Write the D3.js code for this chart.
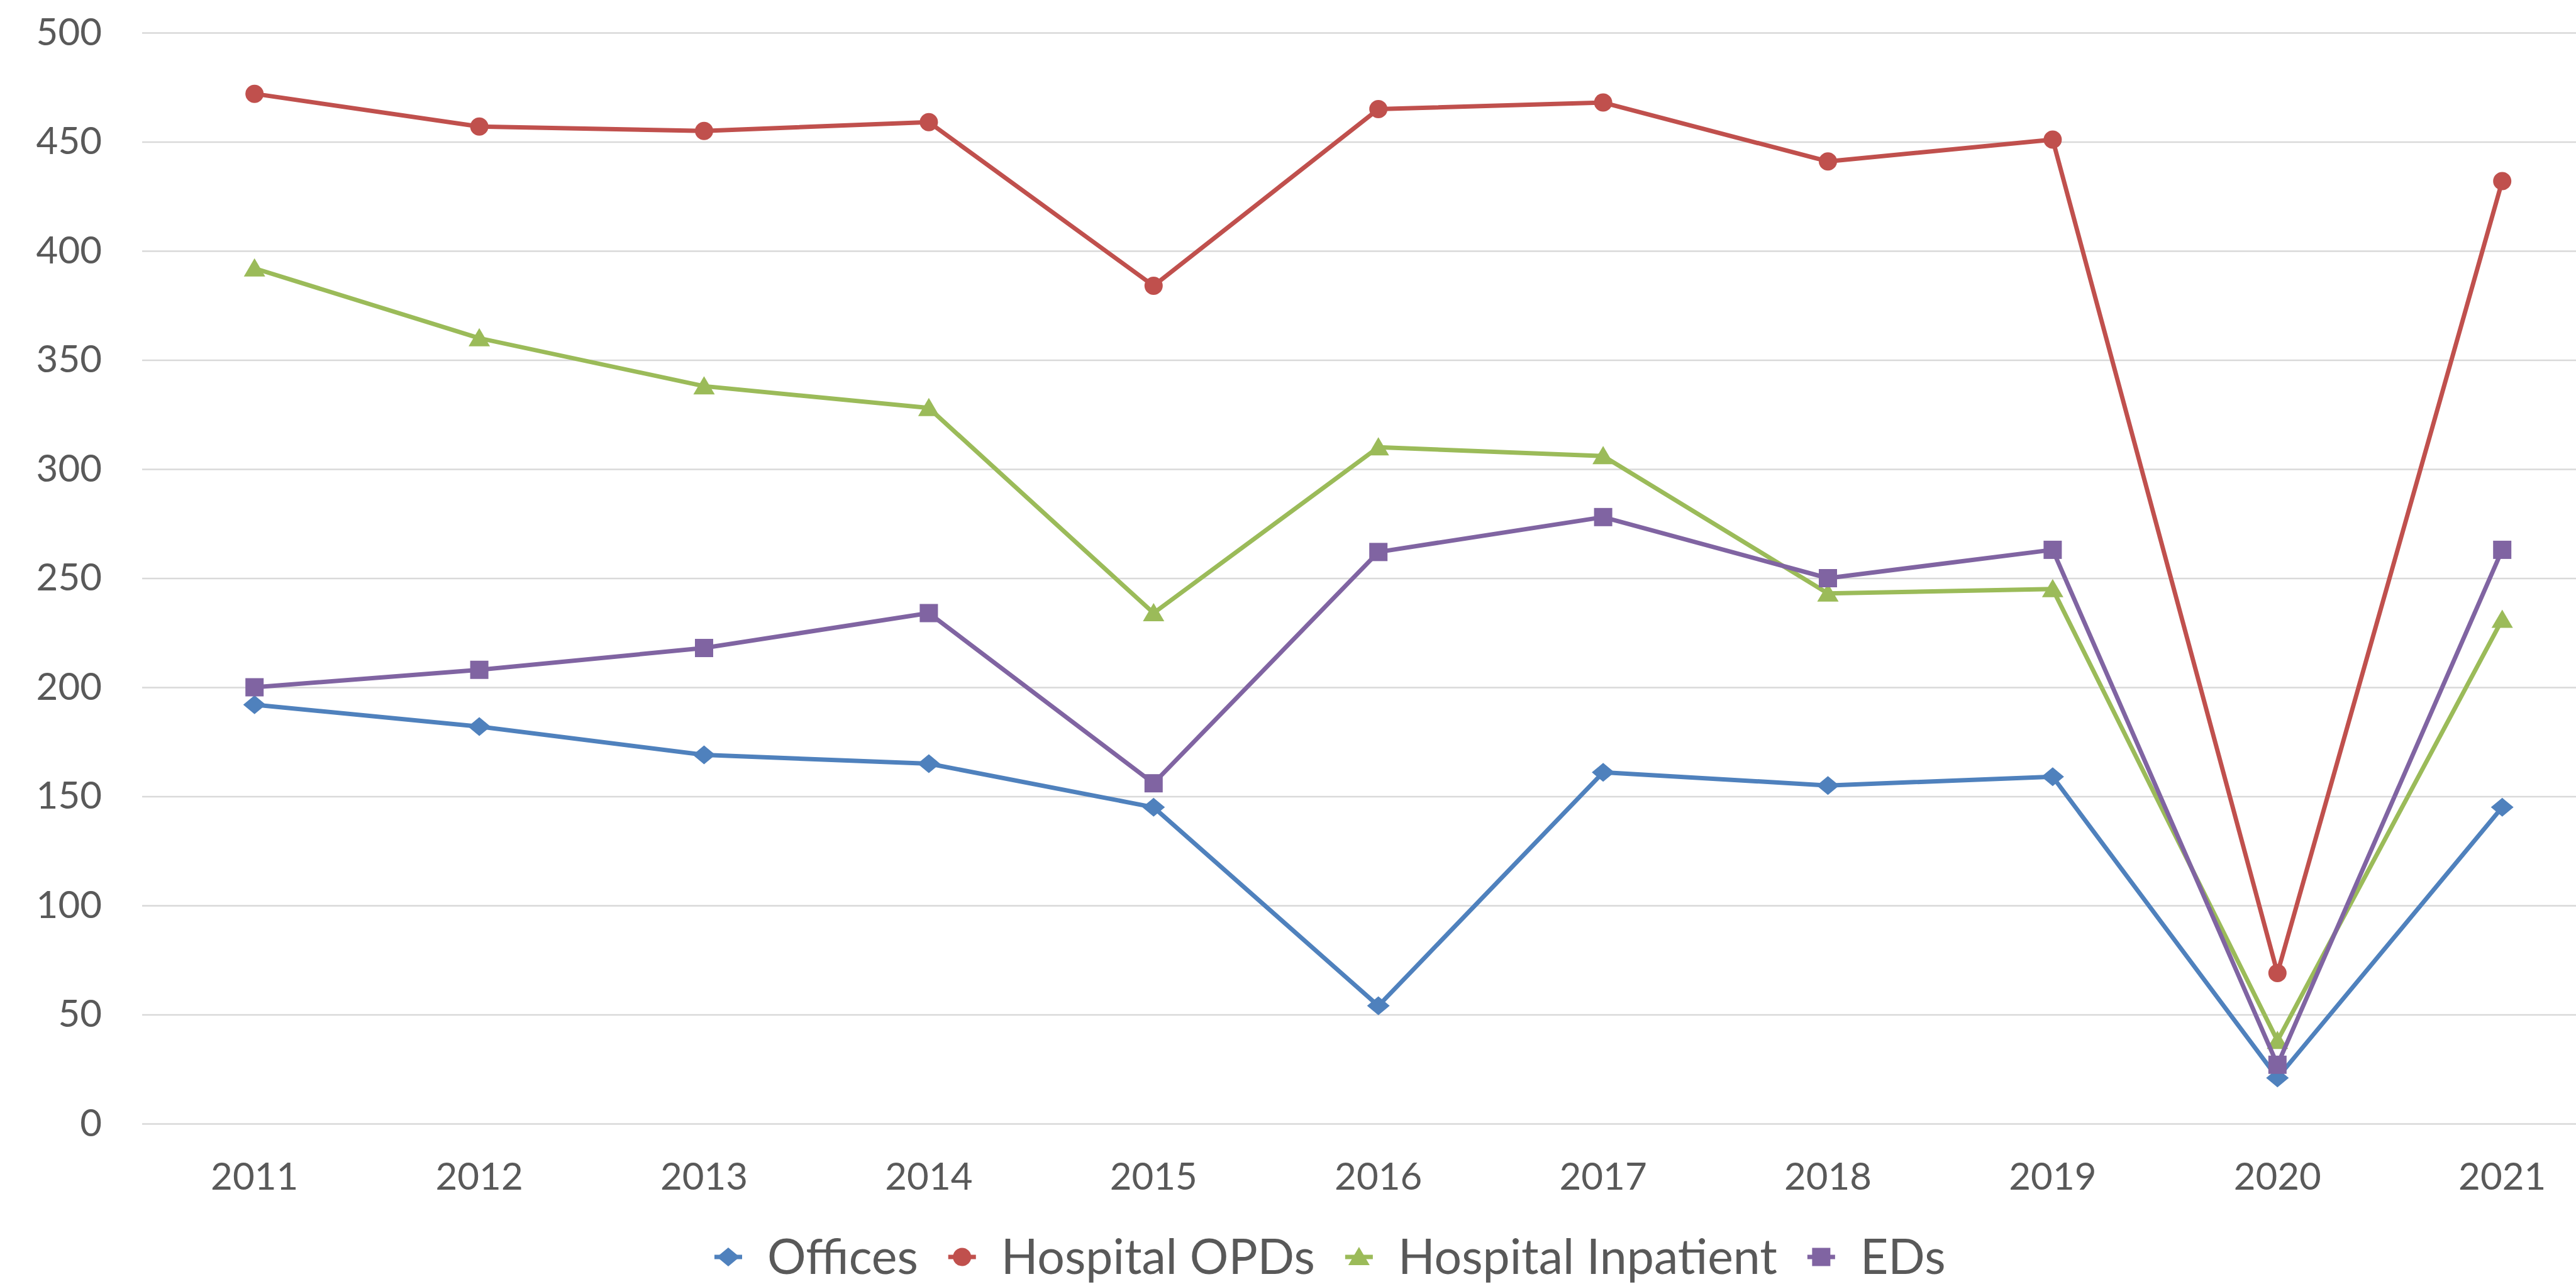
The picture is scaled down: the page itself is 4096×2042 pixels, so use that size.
<!DOCTYPE html>
<html><head><meta charset="utf-8">
<script src="https://cdn.jsdelivr.net/npm/d3@7"></script>
<style>html,body{margin:0;padding:0;background:#fff;overflow:hidden}svg{display:block}</style>
</head><body>
<svg id="chart" width="4096" height="2042"></svg>
<script>
const years = ["2011","2012","2013","2014","2015","2016","2017","2018","2019","2020","2021"];
const offices = [192,182,169,165,145,54,161,155,159,21,145];
const hospitalOPDs = [472,457,455,459,384,465,468,441,451,69,432];
const hospitalInpatient = [392,360,338,328,234,310,306,243,245,38,231];
const eds = [200,208,218,234,156,262,278,250,263,27,263];
const seriesNames = ["Offices","Hospital OPDs","Hospital Inpatient","EDs"];
const yTicks = [0,50,100,150,200,250,300,350,400,450,500];

const series = [
  {name: seriesNames[0], values: offices, color: "#4F81BD", shape: "diamond"},
  {name: seriesNames[1], values: hospitalOPDs, color: "#C0504D", shape: "circle"},
  {name: seriesNames[2], values: hospitalInpatient, color: "#9BBB59", shape: "triangle"},
  {name: seriesNames[3], values: eds, color: "#8064A2", shape: "square"}
];

const svg = d3.select("#chart");
const left = 226, band = 357.4;
const x = d3.scaleBand().domain(years).range([left, left + band * years.length]).padding(0);
const y = d3.scaleLinear().domain([0, 500]).range([1787, 52]);
const font = "Lato, 'Open Sans', sans-serif";
const textColor = "#595959";

// gridlines + y labels
const yAxis = svg.append("g").attr("transform", `translate(${left},0)`)
  .call(d3.axisLeft(y).tickValues(yTicks).tickSize(-(4096 - left + 100)).tickPadding(64));
yAxis.select(".domain").remove();
yAxis.selectAll(".tick line").attr("stroke", "#D9D9D9").attr("stroke-width", 2.5);
yAxis.selectAll(".tick text").attr("fill", textColor).style("font-family", font).style("font-size", "60px");

// x labels
const xAxis = svg.append("g").attr("transform", `translate(0,${y(0)})`)
  .call(d3.axisBottom(x).tickSize(0).tickPadding(62));
xAxis.select(".domain").remove();
xAxis.selectAll(".tick text").attr("fill", textColor).style("font-family", font).style("font-size", "60px");

function markerPath(shape) {
  if (shape === "diamond") return "M0,-15 L18,0 L0,15 L-18,0 Z";
  if (shape === "triangle") return "M0,-16 L17,13 L-17,13 Z";
  if (shape === "square") return "M-14.5,-14.5 L14.5,-14.5 L14.5,14.5 L-14.5,14.5 Z";
  return d3.symbol().type(d3.symbolCircle).size(Math.PI * 14.5 * 14.5)();
}

const line = d3.line().x((d, i) => x(years[i]) + x.bandwidth() / 2).y(d => y(d));

series.forEach(s => {
  const g = svg.append("g");
  g.append("path").datum(s.values).attr("d", line)
    .attr("fill", "none").attr("stroke", s.color).attr("stroke-width", 7).attr("stroke-linejoin", "round");
  g.selectAll("path.m").data(s.values).enter().append("path").attr("class", "m")
    .attr("d", markerPath(s.shape))
    .attr("transform", (d, i) => `translate(${x(years[i]) + x.bandwidth() / 2},${y(d)})`)
    .attr("fill", s.color);
});

// legend
const legend = svg.append("g").attr("transform", "translate(0,1999)");
let cx = 1158;
series.forEach(s => {
  const item = legend.append("g");
  item.append("line").attr("x1", cx - 22).attr("x2", cx + 22).attr("y1", 0).attr("y2", 0)
    .attr("stroke", s.color).attr("stroke-width", 7);
  item.append("path").attr("d", markerPath(s.shape)).attr("transform", `translate(${cx},0)`).attr("fill", s.color);
  const t = item.append("text").attr("x", cx + 62).attr("y", 0).attr("dy", "0.35em")
    .attr("fill", textColor).style("font-family", font).style("font-size", "77px").text(s.name);
  const w = t.node().getComputedTextLength();
  cx = cx + 62 + w + 70;
});
</script>
</body></html>
